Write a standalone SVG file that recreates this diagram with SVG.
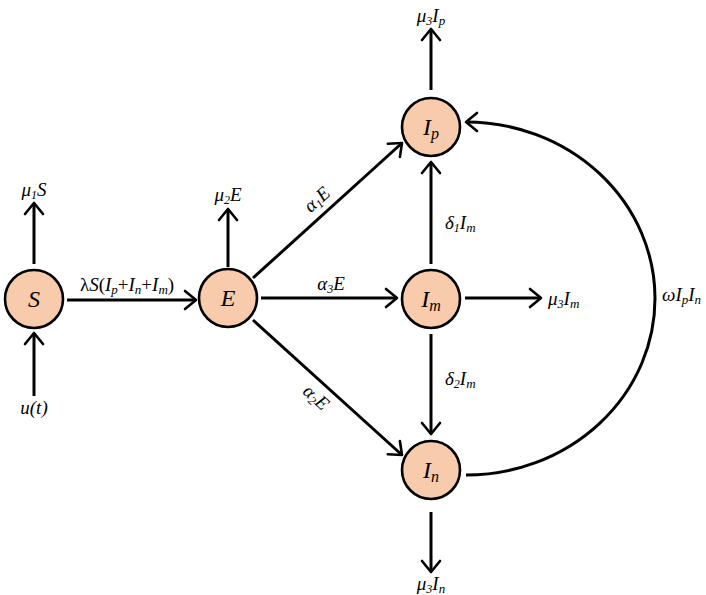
<svg xmlns="http://www.w3.org/2000/svg" width="706" height="595" viewBox="0 0 706 595">
<style>
.node{fill:#F8CBAD;stroke:#000;stroke-width:2.6}
.ln{fill:none;stroke:#000;stroke-width:3;marker-end:url(#ah)}
.nl{font-family:"Liberation Serif","Times New Roman",serif;font-style:italic;font-size:24px;text-anchor:middle}
.el{font-family:"Liberation Serif","Times New Roman",serif;font-style:italic;font-size:19px}
.up{font-style:normal}
</style>
<defs>
<marker id="ah" markerUnits="userSpaceOnUse" markerWidth="30" markerHeight="30" refX="0" refY="0" viewBox="-15 -15 30 30" orient="auto" overflow="visible">
<path d="M-11 -9 L0 0 L-11 9" fill="none" stroke="#000" stroke-width="2.6" stroke-linecap="round" stroke-linejoin="round"/>
</marker>
</defs>
<g id="connectors">
<path class="ln" d="M34 264 L34 203"/>
<path class="ln" d="M34 396 L34 333"/>
<path class="ln" d="M67 300 L196 300"/>
<path class="ln" d="M228 267 L228 209"/>
<path class="ln" d="M253 278 L402 143"/>
<path class="ln" d="M261 298 L397 298"/>
<path class="ln" d="M253 320 L402 455"/>
<path class="ln" d="M431 264 L431 162"/>
<path class="ln" d="M431 334 L431 434"/>
<path class="ln" d="M465 298 L541 298"/>
<path class="ln" d="M431 90 L431 29"/>
<path class="ln" d="M431 512 L431 572"/>
<path class="ln" d="M466 475 A189 176.5 0 0 0 466 122"/>
<g class="el">
<text x="34" y="196" text-anchor="middle">μ<tspan font-size="12" dy="3">1</tspan><tspan dy="-3">S</tspan></text>
<text x="34" y="414" text-anchor="middle">u(t)</text>
<text x="127" y="291" text-anchor="middle"><tspan class="up">λ</tspan>S<tspan class="up">(</tspan>I<tspan font-size="13" dy="3">p</tspan><tspan class="up" dy="-3">+</tspan>I<tspan font-size="13" dy="3">n</tspan><tspan class="up" dy="-3">+</tspan>I<tspan font-size="13" dy="3">m</tspan><tspan class="up" dy="-3">)</tspan></text>
<text x="228" y="201" text-anchor="middle">μ<tspan font-size="12" dy="3">2</tspan><tspan dy="-3">E</tspan></text>
<text transform="translate(321,204) rotate(-42)" text-anchor="middle">α<tspan font-size="12" dy="3">1</tspan><tspan dy="-3">E</tspan></text>
<text x="331" y="290" text-anchor="middle">α<tspan font-size="12" dy="3">3</tspan><tspan dy="-3">E</tspan></text>
<text transform="translate(312,402) rotate(42)" text-anchor="middle">α<tspan font-size="12" dy="3">2</tspan><tspan dy="-3">E</tspan></text>
<text x="445" y="229">δ<tspan font-size="12" dy="3">1</tspan><tspan dy="-3">I</tspan><tspan font-size="13" dy="3">m</tspan></text>
<text x="445" y="385">δ<tspan font-size="12" dy="3">2</tspan><tspan dy="-3">I</tspan><tspan font-size="13" dy="3">m</tspan></text>
<text x="548" y="305">μ<tspan font-size="12" dy="3">3</tspan><tspan dy="-3">I</tspan><tspan font-size="13" dy="3">m</tspan></text>
<text x="431" y="22" text-anchor="middle">μ<tspan font-size="12" dy="3">3</tspan><tspan dy="-3">I</tspan><tspan font-size="13" dy="3">p</tspan></text>
<text x="431" y="590" text-anchor="middle">μ<tspan font-size="12" dy="3">3</tspan><tspan dy="-3">I</tspan><tspan font-size="13" dy="3">n</tspan></text>
<text x="662" y="301">ωI<tspan font-size="13" dy="3">p</tspan><tspan dy="-3">I</tspan><tspan font-size="13" dy="3">n</tspan></text>
</g>
</g>
<g id="S"><circle class="node" cx="34" cy="299" r="29"/><text class="nl" x="34" y="307">S</text></g>
<g id="E"><circle class="node" cx="228" cy="298" r="29"/><text class="nl" x="228" y="306">E</text></g>
<g id="Ip"><circle class="node" cx="431" cy="127" r="29"/><text class="nl" x="431" y="135">I<tspan font-size="16" dy="4">p</tspan></text></g>
<g id="Im"><circle class="node" cx="431" cy="299" r="29"/><text class="nl" x="431" y="307">I<tspan font-size="16" dy="4">m</tspan></text></g>
<g id="In"><circle class="node" cx="431" cy="470" r="29"/><text class="nl" x="431" y="478">I<tspan font-size="16" dy="4">n</tspan></text></g>
</svg>
